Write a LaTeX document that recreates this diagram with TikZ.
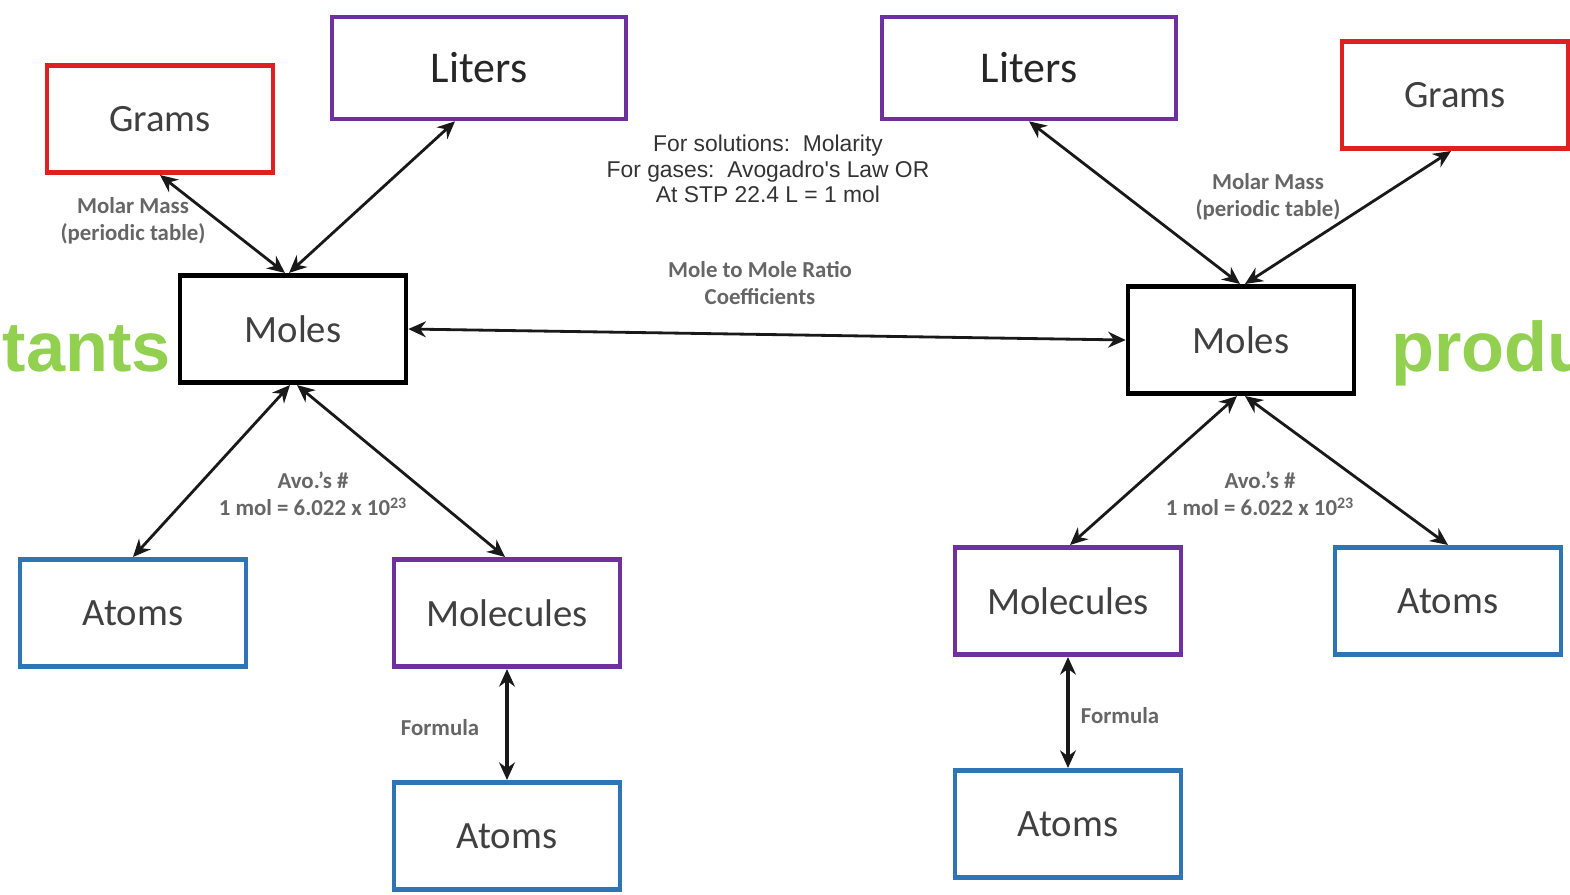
\documentclass[tikz,border=0pt]{standalone}
\usepackage{tikz}
\usepackage{fontspec}
\setmainfont{Carlito}
\newfontfamily\arialf{Liberation Sans}
\usetikzlibrary{arrows.meta}
\definecolor{vermelho}{HTML}{E02020}
\definecolor{roxo}{HTML}{7030A0}
\definecolor{azul}{HTML}{2E75B6}
\definecolor{verde}{HTML}{92D050}
\definecolor{cinza}{HTML}{404040}

\begin{document}
\begin{tikzpicture}[x=0.02cm, y=-0.02cm, >={Stealth[length=10pt,width=9pt]},
    caixa/.style={draw, line width=2.6pt, minimum width=4.52cm, minimum height=2.15cm,
      inner sep=0pt, text=cinza, font=\fontsize{22}{26}\selectfont},
    litros/.style={caixa, draw=roxo, minimum width=5.88cm, minimum height=2.04cm,
      text=black!85, font=\fontsize{25}{30}\selectfont},
    rotulo/.style={align=center, text=black!60, font=\bfseries\fontsize{13}{15.5}\selectfont},
    seta/.style={<->, line width=1.6pt, black!90},
    titulo/.style={text=verde, inner sep=0pt, font=\arialf\bfseries\fontsize{40}{48}\selectfont}]

  \useasboundingbox (0,0) rectangle (1570,894);
  \clip (0,0) rectangle (1570,894);

  % Reagentes
  \node[titulo, anchor=base east] (reag) at (171,371) {reactants};
  \node[caixa, draw=vermelho] (gramsL) at (160,119) {Grams};
  \node[litros] (litersL) at (479,68) {Liters};
  \node[caixa, draw=black] (molesL) at (293,329) {Moles};
  \node[caixa, draw=azul] (atomsL) at (133,613) {Atoms};
  \node[caixa, draw=roxo] (molecL) at (507,613) {Molecules};
  \node[caixa, draw=azul] (atomsL2) at (507,836) {Atoms};

  \draw[seta] ([xshift=-0.16cm]molesL.north) -- (gramsL.south);
  \draw[seta] ([xshift=-0.08cm]molesL.north) -- ([xshift=-0.48cm]litersL.south);
  \draw[seta] ([xshift=-0.06cm]molesL.south) -- (atomsL.north);
  \draw[seta] ([xshift=0.08cm]molesL.south) -- ([xshift=-0.04cm]molecL.north);
  \draw[seta, line width=2.2pt] (molecL.south) -- (atomsL2.north);

  \node[rotulo] (massaL) at (133,221) {Molar Mass\\(periodic table)};
  \node[rotulo] (avoL) at (313,494) {Avo.’s \#\\1 mol = 6.022 x 10\textsuperscript{23}};
  \node[rotulo] (formL) at (440,728) {Formula};

  % Meio
  \node[align=center, text=black!80, font=\arialf\fontsize{13}{14.6}\selectfont] (solucoes) at (768,169)
    {For solutions:\ \ Molarity\\For gases:\ \ Avogadro's Law OR\\At STP 22.4 L = 1 mol};
  \node[rotulo] (razao) at (760,283) {Mole to Mole Ratio\\Coefficients};

  % Produtos
  \node[titulo, anchor=base west] (prod) at (1391,371) {products};
  \node[litros] (litersR) at (1029,68) {Liters};
  \node[caixa, draw=vermelho] (gramsR) at (1455,95) {Grams};
  \node[caixa, draw=black] (molesR) at (1241,340) {Moles};
  \node[caixa, draw=roxo] (molecR) at (1068,601) {Molecules};
  \node[caixa, draw=azul] (atomsR) at (1448,601) {Atoms};
  \node[caixa, draw=azul] (atomsR2) at (1068,824) {Atoms};

  \draw[seta] (molesL.east) -- (molesR.west);
  \draw[seta] ([xshift=-0.02cm]molesR.north) -- (litersR.south);
  \draw[seta] ([xshift=0.08cm]molesR.north) -- ([xshift=-0.08cm]gramsR.south);
  \draw[seta] ([xshift=-0.08cm]molesR.south) -- ([xshift=0.04cm]molecR.north);
  \draw[seta] ([xshift=0.08cm]molesR.south) -- (atomsR.north);
  \draw[seta, line width=2.2pt] (molecR.south) -- (atomsR2.north);

  \node[rotulo] (massaR) at (1268,197) {Molar Mass\\(periodic table)};
  \node[rotulo] (avoR) at (1260,494) {Avo.’s \#\\1 mol = 6.022 x 10\textsuperscript{23}};
  \node[rotulo] (formR) at (1120,716) {Formula};
\end{tikzpicture}
\end{document}
